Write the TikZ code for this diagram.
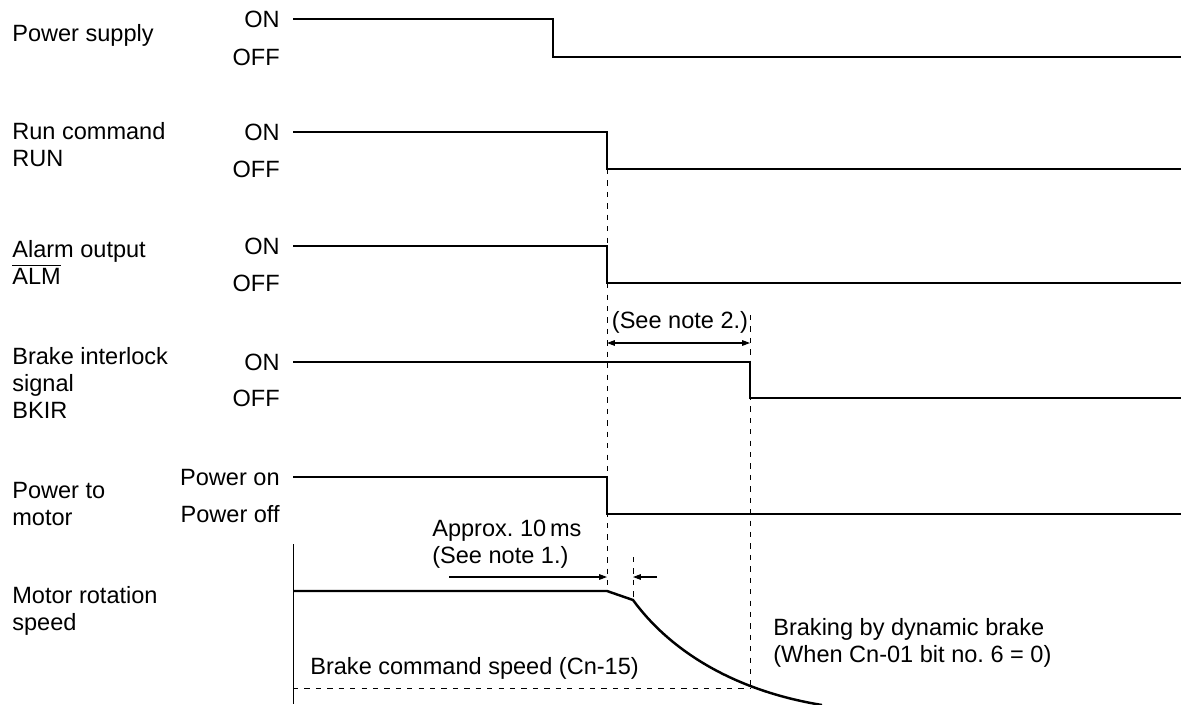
\documentclass[tikz,border=0pt]{standalone}
\usepackage{fontspec}
\setsansfont{Liberation Sans}
\usetikzlibrary{arrows.meta}
\frenchspacing

\begin{document}
\begin{tikzpicture}[x=0.02cm,y=-0.02cm,font=\sffamily\fontsize{13.4}{15.3}\selectfont,>={Triangle[length=4.5pt,width=3.2pt]},sig/.style={line width=1.4pt},guide/.style={line width=0.5pt,dash pattern=on 3pt off 3.5pt},dim/.style={line width=0.6pt},lbl/.style={anchor=base west,inner sep=0pt,align=left},state/.style={anchor=base east,inner sep=0pt}]
\useasboundingbox (0,0) rectangle (1181,704);
% signal names (base = last line)
\node[lbl] (ps) at (12,41) {Power supply};
\node[lbl] (run) at (12,166) {Run command\\RUN};
\node[lbl] (alm) at (12,284) {Alarm output\\$\overline{\mbox{ALM}}$};
\node[lbl] (bkir) at (12,418) {Brake interlock\\signal\\BKIR};
\node[lbl] (pm) at (12,525) {Power to\\motor};
\node[lbl] (spd) at (12,630) {Motor rotation\\speed};
% levels
\node[state] (psOn) at (280,27) {ON};
\node[state] (psOff) at (280,65) {OFF};
\node[state] (runOn) at (280,140) {ON};
\node[state] (runOff) at (280,177) {OFF};
\node[state] (almOn) at (280,254) {ON};
\node[state] (almOff) at (280,291) {OFF};
\node[state] (bkOn) at (280,370) {ON};
\node[state] (bkOff) at (280,406) {OFF};
\node[state] (pmOn) at (280,485) {Power on};
\node[state] (pmOff) at (280,522) {Power off};
% waveforms
\draw[sig] (293,19)--(553,19)--(553,57)--(1181,57);
\draw[sig] (293,132)--(607,132)--(607,169)--(1181,169);
\draw[sig] (293,246)--(607,246)--(607,283)--(1181,283);
\draw[sig] (293,362)--(750,362)--(750,398)--(1181,398);
\draw[sig] (293,477)--(607,477)--(607,514)--(1181,514);
% motor speed
\draw[line width=0.5pt] (293,544)--(293,704);
\draw[sig] (293,591)--(607,591)--(633,600) .. controls (668,648) and (730,690) .. (822,705);
% timing guides
\coordinate (t0) at (607,169);
\coordinate (t0b) at (607,591);
\coordinate (t1) at (750,315);
\coordinate (t1b) at (750,688);
\coordinate (t2) at (633,557);
\coordinate (t2b) at (633,600);
\coordinate (v0) at (293,688);
\draw[guide] (t0)--(t0b);
\draw[guide] (t1)--(t1b);
\draw[guide] (t2)--(t2b);
\draw[guide] (v0)--(t1b);
% note 2
\draw[dim,<->] (t0 |- 0,343)--(t1 |- 0,343);
\node[anchor=base,inner sep=0pt] (n2) at (680,328) {(See note 2.)};
% note 1
\coordinate (a1) at (449,577);
\coordinate (a2) at (657,577);
\draw[dim,->] (a1)--(t0 |- a1);
\draw[dim,->] (a2)--(t2 |- a2);
\node[lbl] (n1) at (432,563) {Approx. 10\,ms\\(See note 1.)};
\node[lbl] (db) at (773,662) {Braking by dynamic brake\\(When Cn-01 bit no. 6 = 0)};
\node[lbl] (bc) at (310,674) {Brake command speed (Cn-15)};
\end{tikzpicture}
\end{document}
